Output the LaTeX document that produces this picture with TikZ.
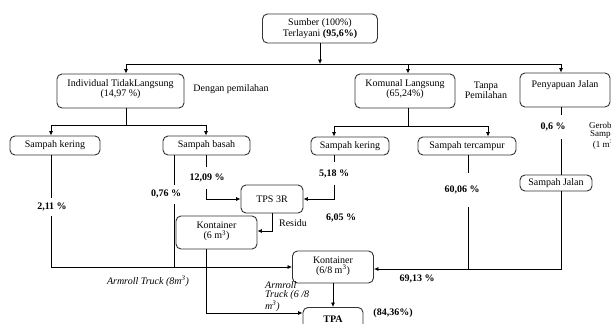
\documentclass[tikz,border=0pt]{standalone}
\usepackage{fontspec}
\setmainfont{Liberation Serif}
\usetikzlibrary{arrows.meta}
\begin{document}
\begin{tikzpicture}[x=1pt,y=-1pt,
  font=\fontsize{10}{11.5}\selectfont,
  box/.style={draw=black!80, line width=0.9pt, rounded corners=5pt, align=center, inner sep=1pt},
  arr/.style={-{Latex[length=4.5pt,width=4pt]}, line width=0.7pt},
  ln/.style={line width=0.7pt},
  pct/.style={font=\fontsize{10}{11.5}\selectfont\bfseries, fill=white, inner xsep=1pt, inner ysep=0pt},
  note/.style={align=center, inner sep=0pt},
  itnote/.style={font=\fontsize{10}{9.5}\selectfont\itshape, inner sep=0pt}]
\useasboundingbox (0,0) rectangle (611,324);
\clip (0,0) rectangle (611,324);
\fill[white] (0,0) rectangle (611,324);

% boxes
\node[box, minimum width=115pt, minimum height=29pt] (sumber) at (320,28.5) {Sumber (100\%)\\Terlayani \textbf{(95,6\%)}};
\node[box, minimum width=127pt, minimum height=34pt, font=\fontsize{10}{10.5}\selectfont, text depth=6pt] (indiv) at (120.5,91) {Individual TidakLangsung\\(14,97 \%)};
\node[box, minimum width=100pt, minimum height=34pt, font=\fontsize{10}{10.5}\selectfont, text depth=6pt] (komunal) at (405,91) {Komunal Langsung\\(65,24\%)};
\node[box, minimum width=90pt, minimum height=34pt, text depth=12pt] (penyapuan) at (565,90) {Penyapuan Jalan};
\node[box, minimum width=90pt, minimum height=19pt] (skL) at (55,145.5) {Sampah kering};
\node[box, minimum width=87pt, minimum height=19pt] (sbasah) at (206.5,145.5) {Sampah basah};
\node[box, minimum width=78pt, minimum height=18pt] (skR) at (350,146) {Sampah kering};
\node[box, minimum width=98pt, minimum height=18pt] (stercampur) at (467,146) {Sampah tercampur};
\node[box, minimum width=72pt, minimum height=16pt] (sjalan) at (556,183) {Sampah Jalan};
\node[box, minimum width=62pt, minimum height=28pt] (tps) at (272,199) {TPS 3R};
\node[box, minimum width=81pt, minimum height=33pt, font=\fontsize{10}{10}\selectfont, text depth=4pt] (kont6) at (216.5,232.5) {Kontainer\\(6 m\textsuperscript{3})};
\node[box, minimum width=81pt, minimum height=32pt, font=\fontsize{10}{10.5}\selectfont, text depth=4pt] (kont68) at (333,267) {Kontainer\\(6/8 m\textsuperscript{3})};
\node[box, minimum width=60pt, minimum height=24pt, anchor=north, font=\fontsize{10}{11.5}\selectfont\bfseries] (tpa) at (333,307) {TPA};

% helper coordinates
\coordinate (hub) at (320,64);
\coordinate (cI) at (126,0);
\coordinate (cK) at (408,0);
\coordinate (cP) at (561,0);
\coordinate (hubI) at (126,125);
\coordinate (hubK) at (408,126);
\coordinate (c51) at (51,0);
\coordinate (c206) at (206,0);
\coordinate (c174) at (174,0);
\coordinate (c333) at (334,0);
\coordinate (c488) at (488,0);
\coordinate (c272) at (272,0);
\coordinate (c468) at (468,0);
\coordinate (r231) at (0,231);
\coordinate (r269) at (0,269);
\coordinate (r313) at (0,313);

% connectors
\draw[arr] (sumber.south) -- (hub);
\draw[arr] (hub) -| (indiv.north -| cI);
\draw[arr] (hub) -| (komunal.north -| cK);
\draw[arr] (hub) -| (penyapuan.north -| cP);

\draw[ln] (indiv.south -| cI) -- (hubI);
\draw[arr] (hubI) -| (skL.north -| c51);
\draw[arr] (hubI) -| (sbasah.north -| c206);

\draw[ln] (komunal.south -| cK) -- (hubK);
\draw[arr] (hubK) -| (skR.north -| c333);
\draw[arr] (hubK) -| (stercampur.north -| c488);

\draw[ln] (penyapuan.south -| cP) -- (sjalan.north -| cP);

\draw[arr] (skL.south -| c51) |- (kont68.west);
\draw[ln] (sbasah.south -| c174) -- (c174 |- kont68.west);
\draw[arr] (sbasah.south -| c206) |- (tps.west);
\draw[arr] (skR.south -| c333) |- (tps.east);
\draw[arr] (tps.south -| c272) -- (c272 |- r231) -- (kont6.east |- r231);
\draw[arr] (kont6.south -| c206) -- (c206 |- r313) -- (tpa.west |- r313);
\draw[ln] (stercampur.south -| c468) -- (c468 |- r269);
\draw[arr] (sjalan.south -| cP) -- (cP |- r269) -- (kont68.east |- r269);
\draw[arr] (kont68.south) -- (tpa.north);

% percentage labels
\node[pct, minimum height=18pt] (p211) at (52,207) {2,11 \%};
\node[pct, minimum height=19pt] (p076) at (166,194) {0,76 \%};
\node[pct, minimum height=22pt] (p1209) at (207,178) {12,09 \%};
\node[pct, minimum height=23pt] (p518) at (334,173.5) {5,18 \%};
\node[pct, minimum height=34pt] (p6006) at (462,190) {60,06 \%};
\node[pct, minimum height=24pt] (p06) at (553,127) {0,6 \%};
\node[pct, fill=none] (p605) at (341,218) {6,05 \%};
\node[pct, fill=none] (p6913) at (417,279) {69,13 \%};
\node[pct, fill=none] (p8436) at (393,313) {(84,36\%)};

% other texts
\node[note] (dengan) at (231,89) {Dengan pemilahan};
\node[note, font=\fontsize{10}{9}\selectfont] (tanpa) at (486,90) {Tanpa\\Pemilahan};
\node[note] (residu) at (293,223) {Residu};
\node[itnote] (arm8) at (148,281) {Armroll Truck (8m\textsuperscript{3})};
\node[itnote, align=left, anchor=north west] (arm68) at (265,281) {Armroll\\Truck (6 /8\\m\textsuperscript{3})};
\node[note, font=\fontsize{9}{8}\selectfont, anchor=north] (gerobak) at (604.5,122) {Gerobak\\Sampah\\(1 m\textsuperscript{3})};
\end{tikzpicture}
\end{document}
